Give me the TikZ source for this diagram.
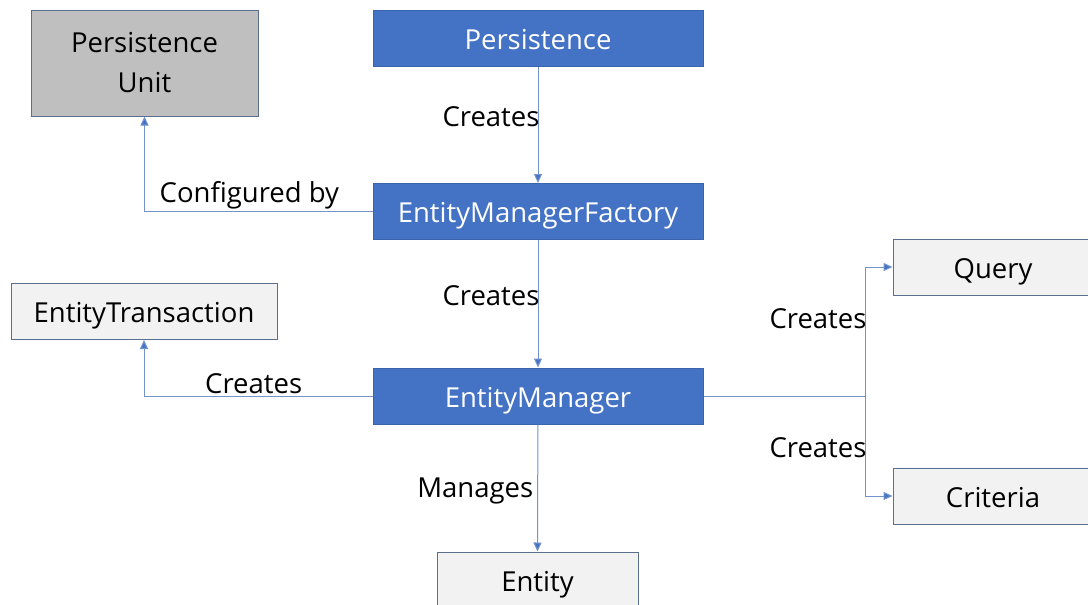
\documentclass[tikz,border=0pt]{standalone}
\usepackage{fontspec}
\setmainfont{Open Sans}
\usetikzlibrary{arrows.meta}
\definecolor{boxblue}{HTML}{4472C4}
\definecolor{boxblueedge}{HTML}{3B64AE}
\definecolor{edgegray}{HTML}{5A6F8E}
\definecolor{lightfill}{HTML}{F2F2F2}
\definecolor{midgray}{HTML}{BFBFBF}
\definecolor{linecol}{HTML}{7393CC}
\tikzset{
  bluebox/.style={draw=boxblueedge, fill=boxblue, text=white, line width=1pt, minimum width=330pt, minimum height=56pt, inner sep=0pt, text height=24pt, text depth=2pt, font=\fontsize{27.5}{30}\selectfont},
  lightbox/.style={draw=edgegray, fill=lightfill, text=black, line width=1pt, minimum height=56pt, inner sep=0pt, text height=24pt, text depth=2pt, font=\fontsize{27.5}{30}\selectfont},
  graybox/.style={draw=edgegray, fill=midgray, text=black, line width=1pt, minimum width=227pt, minimum height=106pt, inner sep=0pt, align=center, font=\fontsize{27.5}{40}\selectfont},
  conn/.style={draw=linecol, line width=1pt, -{Triangle[length=9pt,width=8pt,fill=boxblue]}},
  plain/.style={draw=linecol, line width=1pt},
  lbl/.style={text=black, inner sep=2pt, font=\fontsize{27.5}{30}\selectfont},
}
\begin{document}
\begin{tikzpicture}[x=1pt,y=-1pt]
\useasboundingbox (0,0) rectangle (1088,605);
\clip (0,0) rectangle (1088,605);
\fill[white] (0,0) rectangle (1088,605);
% nodes
\node[graybox] (pu) at (144.5,63) {Persistence\\Unit};
\node[bluebox] (p) at (538,38) {Persistence};
\node[bluebox] (emf) at (538,211.5) {EntityManagerFactory};
\node[lightbox, minimum width=266pt] (et) at (144,311.5) {EntityTransaction};
\node[bluebox] (em) at (538,396) {EntityManager};
\node[lightbox, minimum width=210pt] (q) at (998,267) {\hspace*{-10pt}Query};
\node[lightbox, minimum width=210pt] (c) at (998,496) {\hspace*{-10pt}Criteria};
\node[lightbox, minimum width=201pt] (e) at (537.5,580) {Entity};
\coordinate (jn) at (865,396);
% connectors
\draw[conn] (p) -- node[lbl, pos=0.43, anchor=east, xshift=4pt] {Creates} (emf);
\draw[conn] (emf) -- node[lbl, pos=0.44, anchor=east, xshift=4pt] {Creates} (em);
\draw[conn] (em) -- node[lbl, pos=0.52, anchor=east, xshift=-2pt] {Manages} (e.north);
\draw[conn] (emf.west) -| node[lbl, pos=0.27, anchor=south] {Configured by} (pu.south);
\draw[conn] (em.west) -| node[lbl, pos=0.26, anchor=south] {Creates} (et.south);
\draw[plain] (em.east) -- (jn);
\draw[conn] (jn) |- node[lbl, pos=0.3, anchor=east, xshift=4pt] {Creates} (q.west);
\draw[conn] (jn) |- node[lbl, pos=0.26, anchor=east, xshift=4pt] {Creates} (c.west);
\end{tikzpicture}
\end{document}
